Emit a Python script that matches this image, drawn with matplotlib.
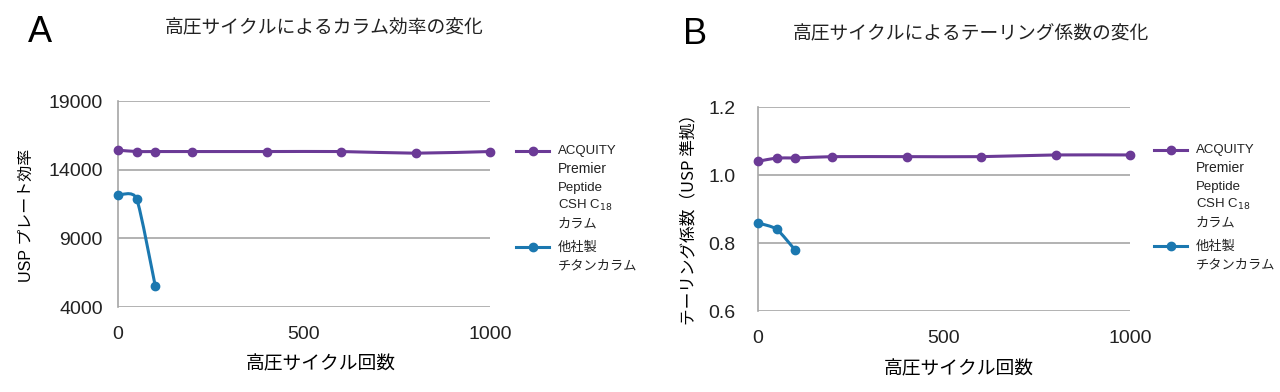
import matplotlib.pyplot as plt
from matplotlib.path import Path
from matplotlib.patches import PathPatch

plt.rcParams['font.family'] = ['Liberation Sans', 'Noto Sans CJK JP', 'DejaVu Sans']

# data
cycles_acq = [0, 50, 100, 200, 400, 600, 800, 1000]
cycles_other = [0, 50, 100]
plates_acq = [15420, 15320, 15320, 15320, 15320, 15320, 15200, 15320]
plates_other = [12130, 11890, 5550]
tailing_acq = [1.040, 1.050, 1.050, 1.054, 1.054, 1.054, 1.059, 1.059]
tailing_other = [0.859, 0.841, 0.779]

yticks_a = [4000, 9000, 14000, 19000]
yticks_b = [0.6, 0.8, 1.0, 1.2]
xticks = [0, 500, 1000]

PURPLE = '#6b3a96'
BLUE = '#1b78b0'
GRID = '#a6a6a6'
TXT = '#222222'
JP = ['Noto Sans CJK JP', 'DejaVu Sans']
MIX = ['Liberation Sans', 'Noto Sans CJK JP']


def smooth_path(xs, ys, t=0.1):
    # catmull-rom style bezier, close to the smoothed lines of a spreadsheet chart
    verts = [(xs[0], ys[0])]
    codes = [Path.MOVETO]
    n = len(xs)
    for i in range(n - 1):
        x0, y0 = xs[max(i - 1, 0)], ys[max(i - 1, 0)]
        x1, y1 = xs[i], ys[i]
        x2, y2 = xs[i + 1], ys[i + 1]
        x3, y3 = xs[min(i + 2, n - 1)], ys[min(i + 2, n - 1)]
        c1 = (x1 + (x2 - x0) * t, y1 + (y2 - y0) * t)
        c2 = (x2 - (x3 - x1) * t, y2 - (y3 - y1) * t)
        verts += [c1, c2, (x2, y2)]
        codes += [Path.CURVE4] * 3
    return Path(verts, codes)


def draw_series(ax, xs, ys, color):
    ax.add_patch(PathPatch(smooth_path(xs, ys), fill=False, edgecolor=color,
                           lw=2.2, clip_on=False, zorder=3))
    ax.plot(xs, ys, ls='none', marker='o', ms=6, color=color, clip_on=False, zorder=4)


def style_axes(ax, ylim, yticks, fmt, ypad):
    ax.set_xlim(0, 1000)
    ax.set_ylim(*ylim)
    ax.set_xticks(xticks)
    ax.set_yticks(yticks)
    ax.set_yticklabels([fmt(v) for v in yticks])
    for s in ['top', 'right', 'bottom']:
        ax.spines[s].set_visible(False)
    ax.spines['left'].set_color(GRID)
    ax.spines['left'].set_linewidth(1.2)
    ax.grid(axis='y', color=GRID, lw=1.2)
    ax.set_axisbelow(True)
    ax.tick_params(length=0, labelsize=14, colors=TXT)
    ax.tick_params(axis='x', pad=14)
    ax.tick_params(axis='y', pad=ypad)


def legend_block(fig, x_line, y_top, y_blue):
    for y, c in [(y_top, PURPLE), (y_blue, BLUE)]:
        fig.add_artist(plt.Line2D([x_line, x_line + 33 / 1280], [y, y], color=c, lw=2.2))
        fig.add_artist(plt.Line2D([x_line + 16.5 / 1280], [y], color=c, marker='o', ms=6))
    tx = x_line + 42 / 1280
    lines = ['ACQUITY', 'Premier', 'Peptide', r'CSH C$_{18}$', 'カラム']
    sizes = [9.5, 10, 9.5, 9.5, 9.5]
    for k, (s, fs) in enumerate(zip(lines, sizes)):
        fig.text(tx, y_top - k * 18.3 / 392, s, fontsize=fs, va='center', ha='left',
                 color=TXT, family=MIX)
    fig.text(tx, y_blue, '他社製', fontsize=9.5, va='center', ha='left', color=TXT, family=JP)
    fig.text(tx, y_blue - 19 / 392, 'チタンカラム', fontsize=9.5, va='center', ha='left',
             color=TXT, family=JP)


fig = plt.figure(figsize=(12.8, 3.92), dpi=100)

# panel A
ax1 = fig.add_axes([118 / 1280, 1 - 307 / 392, 372 / 1280, 206 / 392])
style_axes(ax1, (4000, 19000), yticks_a, lambda v: f'{v}', 11)
draw_series(ax1, cycles_acq, plates_acq, PURPLE)
draw_series(ax1, cycles_other, plates_other, BLUE)
ax1.set_xlabel('高圧サイクル回数', fontsize=13.5, family=JP)
ax1.xaxis.set_label_coords(0.545, -0.225)
ax1.set_ylabel('USP プレート効率', fontsize=11.5, family=MIX)
ax1.yaxis.set_label_coords(-0.226, 0.447)
fig.text(28 / 1280, 1 - 33 / 392, 'A', fontsize=26, va='center', ha='left')
fig.text(324 / 1280, 1 - 28 / 392, '高圧サイクルによるカラム効率の変化', fontsize=13.5,
         va='center', ha='center', family=JP, color=TXT)
legend_block(fig, 516 / 1280, 1 - 151 / 392, 1 - 247 / 392)

# panel B
ax2 = fig.add_axes([758 / 1280, 1 - 311 / 392, 372 / 1280, 204 / 392])
style_axes(ax2, (0.6, 1.2), yticks_b, lambda v: f'{v:.1f}', 16)
draw_series(ax2, cycles_acq, tailing_acq, PURPLE)
draw_series(ax2, cycles_other, tailing_other, BLUE)
ax2.set_xlabel('高圧サイクル回数', fontsize=13.5, family=JP)
ax2.xaxis.set_label_coords(0.54, -0.23)
ax2.set_ylabel('テーリング係数（USP 準拠）', fontsize=12, family=JP)
ax2.yaxis.set_label_coords(-0.164, 0.47)
fig.text(683 / 1280, 1 - 34 / 392, 'B', fontsize=26, va='center', ha='left')
fig.text(971 / 1280, 1 - 34 / 392, '高圧サイクルによるテーリング係数の変化', fontsize=13.5,
         va='center', ha='center', family=JP, color=TXT)
legend_block(fig, 1154 / 1280, 1 - 150 / 392, 1 - 246 / 392)

fig.savefig('out.png', dpi=100, facecolor='white')
